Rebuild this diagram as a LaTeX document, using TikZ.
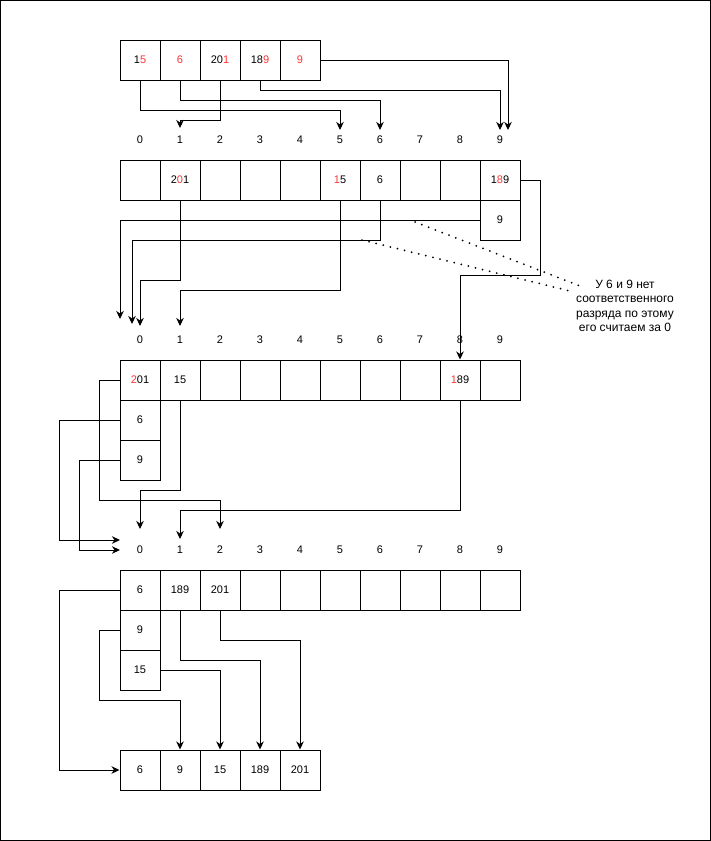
\documentclass[tikz,border=0pt]{standalone}
\usepackage{fontspec}
\setmainfont{Liberation Sans}
\usetikzlibrary{arrows.meta}
\definecolor{hl}{RGB}{255,51,51}
\begin{document}
\begin{tikzpicture}[x=1pt,y=-1pt,
  cell/.style={draw, line width=1pt, minimum width=40pt, minimum height=40pt, inner sep=0pt, font=\fontsize{11}{13}\selectfont},
  lab/.style={inner sep=0pt, font=\fontsize{11}{13}\selectfont},
  conn/.style={draw, line width=1pt, -{Stealth[length=8pt,width=7.5pt,inset=2.5pt]}},
  notedots/.style={line width=2pt, line cap=round, dash pattern=on 0pt off 7.3pt},
  notetext/.style={align=center, inner sep=0pt, font=\fontsize{12}{14.3}\selectfont}
]
\useasboundingbox (0,0) rectangle (711,841);
\draw[line width=1pt] (0.5,0.5) rectangle (710,840);

% top array
\node[cell] (t0) at (140,60) {1\textcolor{hl}{5}};
\node[cell] (t1) at (180,60) {\textcolor{hl}{6}};
\node[cell] (t2) at (220,60) {20\textcolor{hl}{1}};
\node[cell] (t3) at (260,60) {18\textcolor{hl}{9}};
\node[cell] (t4) at (300,60) {\textcolor{hl}{9}};

% digit rows
\foreach \i in {0,...,9} {
  \node[lab] (la\i) at (140+40*\i,140) {\i};
  \node[lab] (lb\i) at (140+40*\i,340) {\i};
  \node[lab] (lc\i) at (140+40*\i,550) {\i};
}

% array 2
\foreach \i in {0,2,3,4,7,8} { \node[cell] (b\i) at (140+40*\i,180) {}; }
\node[cell] (b1) at (180,180) {2\textcolor{hl}{0}1};
\node[cell] (b5) at (340,180) {\textcolor{hl}{1}5};
\node[cell] (b6) at (380,180) {6};
\node[cell] (b9) at (500,180) {1\textcolor{hl}{8}9};
\node[cell] (bx) at (500,220) {9};

% array 3
\foreach \i in {2,...,7,9} { \node[cell] (c\i) at (140+40*\i,380) {}; }
\node[cell] (c0) at (140,380) {\textcolor{hl}{2}01};
\node[cell] (c1) at (180,380) {15};
\node[cell] (c8) at (460,380) {\textcolor{hl}{1}89};
\node[cell] (cx1) at (140,420) {6};
\node[cell] (cx2) at (140,460) {9};

% array 4
\foreach \i in {3,...,9} { \node[cell] (d\i) at (140+40*\i,590) {}; }
\node[cell] (d0) at (140,590) {6};
\node[cell] (d1) at (180,590) {189};
\node[cell] (d2) at (220,590) {201};
\node[cell] (dx1) at (140,630) {9};
\node[cell] (dx2) at (140,670) {15};

% final array
\node[cell] (e0) at (140,770) {6};
\node[cell] (e1) at (180,770) {9};
\node[cell] (e2) at (220,770) {15};
\node[cell] (e3) at (260,770) {189};
\node[cell] (e4) at (300,770) {201};

% arrow end points
\coordinate (pA1) at (180,128);
\coordinate (pA5) at (340,130);
\coordinate (pA6) at (380,130);
\coordinate (pA9a) at (500,130);
\coordinate (pA9b) at (508,130);
\coordinate (pB0a) at (120,319);
\coordinate (pB0b) at (132,324);
\coordinate (pB0c) at (140,326);
\coordinate (pB1) at (180,326);
\coordinate (pC0a) at (120,540);
\coordinate (pC0b) at (120,550);
\coordinate (pC0c) at (140,529);
\coordinate (pC1) at (180,539);
\coordinate (pC2) at (220,529);

% top connectors
\draw[conn] (t0.south) -- ++(0,30) -| (pA5);
\draw[conn] (t1.south) -- ++(0,20) -| (pA6);
\draw[conn] (t2.south) -- ++(0,40) -| (pA1);
\draw[conn] (t3.south) -- ++(0,10) -| (pA9a);
\draw[conn] (t4.east) -| (pA9b);

% array 2 connectors
\draw[conn] (b1.south) -- ++(0,80) -| (pB0c);
\draw[conn] (b5.south) -- ++(0,90) -| (pB1);
\draw[conn] (b6.south) -- ++(0,40) -| (pB0b);
\draw[conn] (bx.west) -| (pB0a);
\draw[conn] (b9.east) -- ++(20,0) -- ++(0,95) -| (c8.north);

% array 3 connectors
\draw[conn] (c0.west) -- ++(-20,0) -- ++(0,120) -| (pC2);
\draw[conn] (cx1.west) -- ++(-60,0) |- (pC0a);
\draw[conn] (cx2.west) -- ++(-40,0) |- (pC0b);
\draw[conn] (c1.south) -- ++(0,90) -| (pC0c);
\draw[conn] (c8.south) -- ++(0,110) -| (pC1);

% array 4 connectors
\draw[conn] (d0.west) -- ++(-60,0) |- (e0.west);
\draw[conn] (dx1.west) -- ++(-20,0) -- ++(0,70) -| (e1.north);
\draw[conn] (dx2.east) -| (e2.north);
\draw[conn] (d1.south) -- ++(0,50) -| (e3.north);
\draw[conn] (d2.south) -- ++(0,30) -| (e4.north);

% note
\node[notetext] (note) at (625,306) {У 6 и 9 нет\\соответственного\\разряда по этому\\его считаем за 0};
\coordinate (n1s) at (415,222);
\coordinate (n1e) at (580,286);
\coordinate (n2s) at (362,240);
\coordinate (n2e) at (574,292);
\draw[notedots] (n1s) -- (n1e);
\draw[notedots] (n2s) -- (n2e);
\end{tikzpicture}
\end{document}
